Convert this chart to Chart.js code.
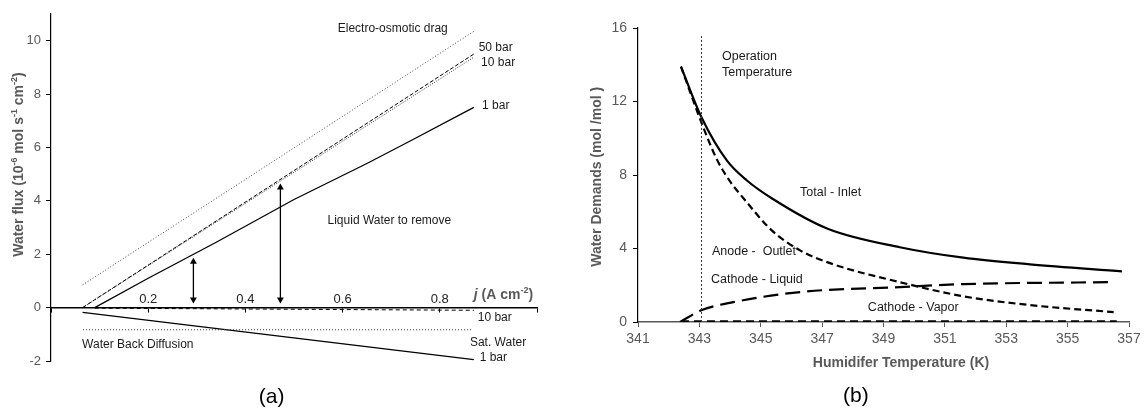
<!DOCTYPE html>
<html>
<head>
<meta charset="utf-8">
<script src="https://cdn.jsdelivr.net/npm/chart.js@4.4.1/dist/chart.umd.min.js"></script>
<style>
  body { margin: 0; background: #fff; }
  #wrap { position: relative; width: 1145px; height: 410px; background: #fff; }
  #chartA { position: absolute; left: 0; top: 0; }
  #chartB { position: absolute; left: 560px; top: 0; }
</style>
</head>
<body>
<div id="wrap">
  <canvas id="chartA" width="560" height="410"></canvas>
  <canvas id="chartB" width="585" height="410"></canvas>
</div>
<script>
const FONT = "'Liberation Sans', Arial, sans-serif";

// ---- panel (a): water flux vs current density j ----
const jEod = [0.065, 0.87];
const eodFlux = [0.85, 10.35];            // electro-osmotic drag
const j50 = [0.065, 0.87];
const bar50Flux = [0, 9.5];
const j10 = [0.065, 0.87];
const bar10Flux = [0, 9.38];
const j1 = [0.09, 0.2, 0.34, 0.5, 0.65, 0.74, 0.87];
const bar1Flux = [0, 1.1, 2.45, 4.05, 5.4, 6.25, 7.5];
const jBack = [0.09, 0.87];
const back10Flux = [-0.02, -0.1];         // back diffusion, 10 bar
const jSat = [0.066, 0.868];
const satFlux = [-0.83, -0.83];
const jBack1 = [0.065, 0.87];
const back1Flux = [-0.18, -1.95];         // back diffusion, 1 bar
const arrow1J = [0.293, 0.293];
const arrow1Flux = [0.3, 1.72];
const arrow2J = [0.472, 0.472];
const arrow2Flux = [0.3, 4.5];

// ---- panel (b): water demands vs humidifier temperature ----
const tTotal = [342.4, 343.08, 343.9, 344.55, 345.37, 347.16, 349.53, 351.6, 353.77, 356.77];
const totalInlet = [13.9, 11.1, 8.78, 7.7, 6.72, 5.09, 4.07, 3.5, 3.14, 2.76];
const tAnode = [342.4, 343.08, 343.57, 344.0, 344.43, 345.35, 346.28, 347.35, 349.53, 351.6, 353.77, 356.5];
const anodeOutlet = [13.9, 10.8, 8.85, 7.65, 6.75, 5.0, 3.9, 3.15, 2.17, 1.4, 0.92, 0.54];
const tLiquid = [342.37, 343.08, 344.1, 346.28, 349.53, 351.6, 356.5];
const cathodeLiquid = [0, 0.65, 1.08, 1.63, 1.9, 2.06, 2.17];
const tVapor = [342.4, 356.6];
const cathodeVapor = [0.03, 0.03];
const tOperation = [343.07, 343.07];
const operationLine = [0, 15.6];

function pts(xs, ys) {
    return xs.map(function(x, i) { return { x: x, y: ys[i] }; });
}

function line(xs, ys, style) {
    return Object.assign({
        data: pts(xs, ys),
        borderColor: '#000',
        borderWidth: 1,
        pointRadius: 0,
        fill: false,
        tension: 0
    }, style);
}

function segFont(s, size, bold) {
    const sz = s.sup ? Math.round(size * 0.65) : size;
    return (s.italic ? 'italic ' : '') + (bold ? 'bold ' : '') + sz + 'px ' + FONT;
}

// draws text with optional superscript / italic pieces
function drawRich(ctx, segs, size, bold, align) {
    let w = 0;
    segs.forEach(function(s) {
        ctx.font = segFont(s, size, bold);
        w += ctx.measureText(s.t).width;
    });
    let cx = align === 'center' ? -w / 2 : 0;
    segs.forEach(function(s) {
        ctx.font = segFont(s, size, bold);
        ctx.fillText(s.t, cx, s.sup ? -size * 0.35 : 0);
        cx += ctx.measureText(s.t).width;
    });
}

function makeNotes(items) {
    return {
        id: 'notes',
        afterDraw: function(chart) {
            const ctx = chart.ctx;
            ctx.save();
            ctx.textBaseline = 'middle';
            ctx.textAlign = 'left';
            items.forEach(function(it) {
                const px = chart.scales.x.getPixelForValue(it.x);
                const py = chart.scales.y.getPixelForValue(it.y);
                ctx.save();
                ctx.translate(px, py);
                if (it.rotate) ctx.rotate(it.rotate * Math.PI / 180);
                ctx.fillStyle = it.color || '#1a1a1a';
                drawRich(ctx, it.segs || [{ t: it.text }], it.size || 12, it.bold, it.align);
                ctx.restore();
            });
            ctx.restore();
        }
    };
}

const notesA = [
    { text: 'Electro-osmotic drag', x: 0.59, y: 10.46 },
    { text: '50 bar', x: 0.88, y: 9.75 },
    { text: '10 bar', x: 0.885, y: 9.19 },
    { text: '1 bar', x: 0.887, y: 7.57 },
    { text: 'Liquid Water to remove', x: 0.569, y: 3.26 },
    { segs: [{ t: 'j', italic: true }, { t: ' (A cm' }, { t: '-2', sup: true }, { t: ')' }],
      x: 0.87, y: 0.47, size: 14, bold: true, color: '#595959' },
    { text: '10 bar', x: 0.878, y: -0.37 },
    { text: 'Sat. Water', x: 0.862, y: -1.31 },
    { text: '1 bar', x: 0.882, y: -1.87 },
    { text: 'Water Back Diffusion', x: 0.064, y: -1.39 },
    { segs: [{ t: 'Water flux (10' }, { t: '-6', sup: true }, { t: ' mol s' }, { t: '-1', sup: true },
             { t: ' cm' }, { t: '-2', sup: true }, { t: ')' }],
      x: -0.066, y: 5.36, size: 14, bold: true, color: '#595959', rotate: -90, align: 'center' },
    { text: '(a)', x: 0.454, y: -3.34, size: 21, align: 'center', color: '#000' }
];

const notesB = [
    { text: 'Operation', x: 343.74, y: 14.42, size: 12.5 },
    { text: 'Temperature', x: 343.74, y: 13.6, size: 12.5 },
    { text: 'Total - Inlet', x: 346.28, y: 7.02, size: 12.5 },
    { text: 'Anode -  Outlet', x: 343.41, y: 3.81, size: 12.5 },
    { text: 'Cathode - Liquid', x: 343.38, y: 2.29, size: 12.5 },
    { text: 'Cathode - Vapor', x: 348.49, y: 0.76, size: 12.5 },
    { text: 'Humidifer Temperature (K)', x: 349.57, y: -2.23, size: 14, bold: true, color: '#595959', align: 'center' },
    { text: 'Water Demands (mol /mol )', x: 339.66, y: 7.9, size: 14, bold: true, color: '#595959', rotate: -90, align: 'center' },
    { text: '(b)', x: 348.1, y: -4.03, size: 21, align: 'center', color: '#000' }
];

const chartA = new Chart(document.getElementById('chartA'), {
    type: 'line',
    data: {
        datasets: [
            line(jEod, eodFlux, { borderColor: '#444', borderDash: [1, 2] }),
            line(j50, bar50Flux, { borderDash: [4, 2] }),
            line(j10, bar10Flux, { borderColor: '#333', borderDash: [1, 1.5] }),
            line(j1, bar1Flux, { borderWidth: 1.3 }),
            line(jBack, back10Flux, { borderDash: [4, 3] }),
            line(jSat, satFlux, { borderColor: '#333', borderDash: [1, 2] }),
            line(jBack1, back1Flux, { borderWidth: 1.3 }),
            line(arrow1J, arrow1Flux, { borderWidth: 1.3, pointRadius: 4, pointStyle: 'triangle',
                pointRotation: [180, 0], pointBackgroundColor: '#000', pointBorderColor: '#000', pointBorderWidth: 0 }),
            line(arrow2J, arrow2Flux, { borderWidth: 1.3, pointRadius: 4, pointStyle: 'triangle',
                pointRotation: [180, 0], pointBackgroundColor: '#000', pointBorderColor: '#000', pointBorderWidth: 0 })
        ]
    },
    options: {
        responsive: false,
        animation: false,
        devicePixelRatio: 1,
        layout: { padding: { left: 0, top: 14, right: 23, bottom: 49 } },
        plugins: { legend: { display: false }, tooltip: { enabled: false } },
        scales: {
            x: {
                type: 'linear',
                axis: 'x',
                position: { y: 0 },
                min: 0,
                max: 1,
                ticks: {
                    stepSize: 0.2,
                    padding: -20,
                    color: '#222',
                    font: { size: 13, family: FONT },
                    callback: function(v) {
                        if (Math.abs(v) < 1e-9 || Math.abs(v - 1) < 1e-9) return '';
                        return v.toFixed(1);
                    }
                },
                grid: { drawOnChartArea: false, color: '#000', tickLength: 4 },
                border: { color: '#000', width: 1.5 }
            },
            y: {
                type: 'linear',
                min: -2,
                max: 11,
                afterFit: function(s) { s.width = 51; },
                ticks: { stepSize: 2, includeBounds: false, padding: 5, color: '#595959', font: { size: 13, family: FONT } },
                grid: { drawOnChartArea: false, color: '#000', tickLength: 5 },
                border: { color: '#000', width: 1.2 }
            }
        }
    },
    plugins: [makeNotes(notesA)]
});

const chartB = new Chart(document.getElementById('chartB'), {
    type: 'line',
    data: {
        datasets: [
            line(tOperation, operationLine, { borderColor: '#333', borderDash: [2, 2] }),
            line(tVapor, cathodeVapor, { borderWidth: 2.2, borderDash: [8, 5] }),
            line(tLiquid, cathodeLiquid, { borderWidth: 2.2, borderDash: [15, 7], cubicInterpolationMode: 'monotone' }),
            line(tAnode, anodeOutlet, { borderWidth: 2.2, borderDash: [7, 4], cubicInterpolationMode: 'monotone' }),
            line(tTotal, totalInlet, { borderWidth: 2.2, cubicInterpolationMode: 'monotone' })
        ]
    },
    options: {
        responsive: false,
        animation: false,
        devicePixelRatio: 1,
        layout: { padding: { left: 0, top: 28, right: 16, bottom: 48 } },
        plugins: { legend: { display: false }, tooltip: { enabled: false } },
        scales: {
            x: {
                type: 'linear',
                position: 'bottom',
                min: 341,
                max: 357,
                afterFit: function(s) { s.height = 40; },
                ticks: { stepSize: 2, padding: 4, color: '#595959', font: { size: 14, family: FONT } },
                grid: { drawOnChartArea: false, color: '#595959', tickLength: 5 },
                border: { color: '#595959', width: 1.6 }
            },
            y: {
                type: 'linear',
                min: 0,
                max: 16,
                afterFit: function(s) { s.width = 78; },
                ticks: { stepSize: 4, padding: 6, color: '#595959', font: { size: 14, family: FONT } },
                grid: { drawOnChartArea: false, color: '#000', tickLength: 5 },
                border: { color: '#000', width: 1.2 }
            }
        }
    },
    plugins: [makeNotes(notesB)]
});
</script>
</body>
</html>
